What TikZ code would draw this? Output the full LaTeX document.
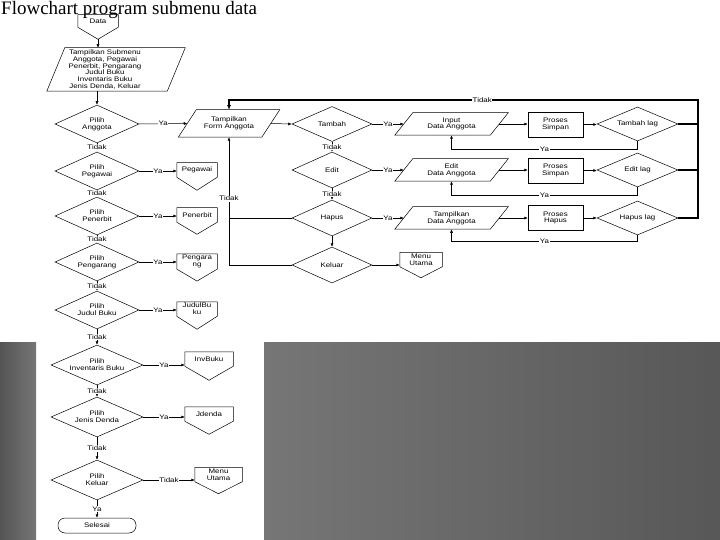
\documentclass[tikz,border=0pt]{standalone}
\usepackage{fontspec}
\setmainfont{Liberation Serif}
\newfontfamily\fcfont[FakeStretch=1.2]{Liberation Sans}
\usetikzlibrary{shapes.geometric,arrows.meta,calc}
\definecolor{bgdark}{RGB}{84,84,84}
\definecolor{bglight}{RGB}{118,118,118}
\tikzset{
  base/.style={draw=black, line width=0.5pt, font=\fcfont\fontsize{6.6}{6.8}\selectfont, align=center, inner sep=1pt},
  dec/.style={base, diamond, aspect=2.3, inner sep=0pt},
  dA/.style={dec, minimum width=84pt, minimum height=38pt},
  dB/.style={dec, minimum width=92pt, minimum height=40pt},
  dC/.style={dec, minimum width=80pt, minimum height=35pt},
  io/.style={base, draw=none, rectangle},
  proc/.style={base, rectangle, minimum width=55pt, minimum height=25pt},
  opg/.style={base, draw=none, rectangle, minimum height=14pt},
  term/.style={base, rectangle, rounded corners=7pt, minimum width=78pt, minimum height=15pt},
  line/.style={line width=0.5pt},
  thk/.style={line width=1.1pt},
  arr/.style={line width=0.5pt, -{Latex[length=3.5pt,width=3pt]}},
  tarr/.style={line width=1.1pt, -{Latex[length=4.5pt,width=4pt]}},
  lbl/.style={fill=white, inner sep=0.6pt, font=\fcfont\fontsize{6.6}{6.8}\selectfont}
}
% off-page connector outline (pentagon pointing down) around a named node
\newcommand\offpg[2][12pt]{\draw[line] (#2.north west) -- (#2.north east) -- (#2.south east) -- ([yshift=-#1]#2.south) -- (#2.south west) -- cycle;}
% parallelogram outline around a named node (node spans the mid-lines of the slanted sides)
\newcommand\parag[2][9pt]{\draw[line] ([xshift=#1]#2.north west) -- ([xshift=#1]#2.north east) -- ([xshift=-#1]#2.south east) -- ([xshift=-#1]#2.south west) -- cycle;}
\begin{document}
\begin{tikzpicture}[x=1pt, y=-1pt]
\useasboundingbox (0,0) rectangle (720,540);
% background panels
\shade[left color=bgdark, right color=bglight] (0,342) rectangle (36,540);
\shade[left color=bglight, right color=bgdark!90!bglight] (264,342) rectangle (720,540);

\node[font=\fontsize{19}{19}\selectfont, anchor=base west, inner sep=0] (title) at (1,14.2) {Flowchart program submenu data};

% top
\node[opg, minimum width=40pt, minimum height=12pt] (data) at (98,21) {Data};
\offpg{data}
\coordinate (datatip) at (98,39);
\node[io, minimum width=120pt, minimum height=43pt] (sub) at (116,69.5) {};
\parag{sub}
\node[base, draw=none] (subtxt) at (105,69.5) {Tampilkan Submenu\\Anggota, Pegawai\\Penerbit, Pengarang\\Judul Buku\\Inventaris Buku\\Jenis Denda, Keluar};

% left column decisions
\node[dA] (d1) at (97,124) {Pilih\\Anggota};
\node[dA] (d2) at (97,171) {Pilih\\Pegawai};
\node[dA] (d3) at (97,216) {Pilih\\Penerbit};
\node[dA] (d4) at (97,262) {Pilih\\Pengarang};
\node[dA] (d5) at (97,310) {Pilih\\Judul Buku};
\node[dB] (d6) at (97,365) {Pilih\\Inventaris Buku};
\node[dB] (d7) at (97,417) {Pilih\\Jenis Denda};
\node[dB] (d8) at (97,480) {Pilih\\Keluar};
\node[term] (sel) at (97,525.5) {Selesai};

% left column targets
\node[io, minimum width=83pt, minimum height=27pt] (tform) at (229,123.5) {Tampilkan\\Form Anggota};
\parag{tform}
\node[opg, minimum width=40pt] (peg) at (197,170) {Pegawai};
\node[opg, minimum width=40pt] (pen) at (197,215) {Penerbit};
\node[opg, minimum width=40pt] (png) at (197,261.5) {Pengara\\ng};
\node[opg, minimum width=40pt] (jud) at (197,309) {JudulBu\\ku};
\node[opg, minimum width=48pt] (inv) at (209,359) {InvBuku};
\node[opg, minimum width=48pt] (jdn) at (209,414) {Jdenda};
\node[opg, minimum width=47pt] (mu1) at (218.5,474.5) {Menu\\Utama};
\offpg[13pt]{peg}
\offpg[12pt]{pen}
\offpg[12pt]{png}
\offpg[13pt]{jud}
\offpg[14pt]{inv}
\offpg[13pt]{jdn}
\offpg[12pt]{mu1}

% middle column
\node[dC] (tb) at (332,124) {Tambah};
\node[dC, minimum height=36pt] (ed) at (332,170) {Edit};
\node[dC, minimum height=36pt] (hp) at (332,218) {Hapus};
\node[dC, minimum height=36pt] (kl) at (332,265) {Keluar};
\node[opg, minimum width=42pt] (mu2) at (421,259.5) {Menu\\Utama};
\offpg[11pt]{mu2}

% right rows
\node[io, minimum width=95pt, minimum height=22pt] (in1) at (451.5,124) {Input\\Data Anggota};
\node[io, minimum width=95pt, minimum height=22pt] (in2) at (451.5,170) {Edit\\Data Anggota};
\node[io, minimum width=95pt, minimum height=22pt] (in3) at (451.5,218) {Tampilkan\\Data Anggota};
\parag{in1}
\parag{in2}
\parag{in3}
\node[proc] (ps1) at (555.5,124.5) {Proses\\Simpan};
\node[proc] (ps2) at (555.5,170.5) {Proses\\Simpan};
\node[proc] (ps3) at (555.5,218) {Proses\\Hapus};
\node[dec, minimum width=81pt, minimum height=34pt] (lg1) at (637.5,124) {Tambah lag};
\node[dec, minimum width=81pt, minimum height=34pt] (lg2) at (637.5,170) {Edit lag};
\node[dec, minimum width=81pt, minimum height=34pt] (lg3) at (637.5,218) {Hapus lag};
\coordinate (rtop) at (698,100);

% connectors: left column
\draw[arr] (datatip) -- (datatip |- sub.north);
\draw[arr] (d1.north |- sub.south) -- (d1.north);
\draw[arr] (d1.south) -- node[lbl]{Tidak} (d2.north);
\draw[arr] (d2.south) -- node[lbl]{Tidak} (d3.north);
\draw[arr] (d3.south) -- node[lbl]{Tidak} (d4.north);
\draw[arr] (d4.south) -- node[lbl]{Tidak} (d5.north);
\draw[arr] (d5.south) -- node[lbl]{Tidak} (d6.north);
\draw[arr] (d6.south) -- node[lbl]{Tidak} (d7.north);
\draw[arr] (d7.south) -- node[lbl]{Tidak} (d8.north);
\draw[arr] (d8.south) -- node[lbl]{Ya} (sel.north);
\draw[arr] (d1.east) -- node[lbl]{Ya} (tform.west);
\draw[arr] (d2.east) -- node[lbl]{Ya} (d2.east -| peg.west);
\draw[arr] (d3.east) -- node[lbl]{Ya} (d3.east -| pen.west);
\draw[arr] (d4.east) -- node[lbl]{Ya} (d4.east -| png.west);
\draw[arr] (d5.east) -- node[lbl]{Ya} (d5.east -| jud.west);
\draw[arr] (d6.east) -- node[lbl]{Ya} (d6.east -| inv.west);
\draw[arr] (d7.east) -- node[lbl]{Ya} (d7.east -| jdn.west);
\draw[arr] (d8.east) -- node[lbl]{Tidak} (d8.east -| mu1.west);

% connectors: middle column
\draw[arr] (tform.east) -- (tb.west);
\draw[arr] (tb.south) -- node[lbl]{Tidak} (ed.north);
\draw[arr] (ed.south) -- node[lbl]{Tidak} (hp.north);
\draw[arr] (hp.south) -- (kl.north);
\draw[arr] (kl.east) -- (kl.east -| mu2.west);
\draw[line] (hp.west) -- (hp.west -| tform.south);
\draw[arr] (kl.west) -| node[lbl, pos=0.76]{Tidak} (tform.south);

% connectors: right rows
\draw[arr] (tb.east) -- node[lbl]{Ya} (in1.west);
\draw[arr] (ed.east) -- node[lbl]{Ya} (in2.west);
\draw[arr] (hp.east) -- node[lbl]{Ya} (in3.west);
\draw[arr] (in1.east) -- (ps1.west |- in1.east);
\draw[arr] (in2.east) -- (ps2.west |- in2.east);
\draw[arr] (in3.east) -- (ps3.west |- in3.east);
\draw[arr] (ps1.east) -- (lg1.west |- ps1.east);
\draw[arr] (ps2.east) -- (lg2.west |- ps2.east);
\draw[arr] (ps3.east) -- (lg3.west |- ps3.east);
\draw[arr] (lg1.south) -- ++(0,8) -| node[lbl, pos=0.25]{Ya} (in1.south);
\draw[arr] (lg2.south) -- ++(0,8) -| node[lbl, pos=0.25]{Ya} (in2.south);
\draw[arr] (lg3.south) -- ++(0,6) -| node[lbl, pos=0.25]{Ya} (in3.south);
\draw[thk] (lg1.east) -- (lg1.east -| rtop);
\draw[thk] (lg2.east) -- (lg2.east -| rtop);
\draw[tarr] (lg3.east) -| (rtop) -| node[lbl, pos=0.23]{Tidak} (tform.north);
\end{tikzpicture}
\end{document}
